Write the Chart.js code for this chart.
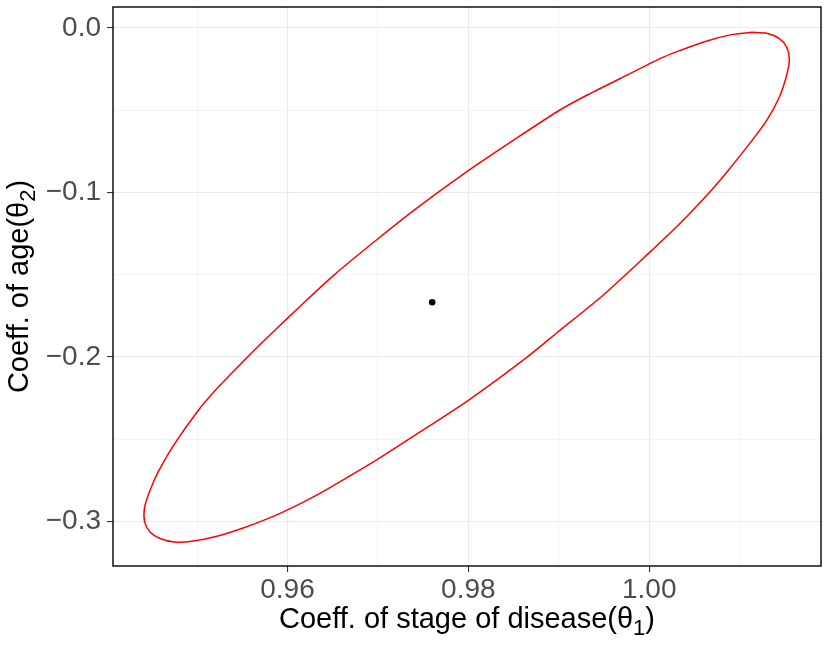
<!DOCTYPE html>
<html>
<head>
<meta charset="utf-8">
<script src="https://cdn.jsdelivr.net/npm/chart.js@4/dist/chart.umd.min.js"></script>
<style>
  html, body { margin: 0; padding: 0; background: #fff; }
  #wrap { width: 830px; height: 649px; }
</style>
</head>
<body>
<div id="wrap"><canvas id="chart"></canvas></div>
<script>
// confidence region boundary (theta1, theta2)
const ellipseX = [
  1.0113, 1.0130, 1.0144, 1.0152, 1.0155, 1.0152, 1.0144, 1.0130, 1.0111, 1.0086,
  1.0067, 1.0034, 0.9999, 0.9949, 0.9899, 0.9865, 0.9800, 0.9747, 0.9699, 0.9647,
  0.9625, 0.9603, 0.9581, 0.9551, 0.9522, 0.9494, 0.9475, 0.9459, 0.9448, 0.9442,
  0.9442, 0.9448, 0.9457, 0.9474, 0.9500, 0.9522, 0.9555, 0.9584, 0.9614, 0.9651,
  0.9699, 0.9743, 0.9798, 0.9850, 0.9899, 0.9931, 0.9968, 1.0012, 1.0030, 1.0063,
  1.0091, 1.0113
];
const ellipseY = [
  -0.0026, -0.0032, -0.0064, -0.0115, -0.0192, -0.0287, -0.0419, -0.0561, -0.0703, -0.0875,
  -0.0997, -0.1189, -0.1372, -0.1625, -0.1849, -0.2001, -0.2264, -0.2455, -0.2625, -0.2795,
  -0.2862, -0.2923, -0.2978, -0.3041, -0.3091, -0.3122, -0.3126, -0.3105, -0.3065, -0.3004,
  -0.2913, -0.2811, -0.2700, -0.2538, -0.2335, -0.2193, -0.2005, -0.1849, -0.1692, -0.1504,
  -0.1286, -0.1095, -0.0875, -0.0682, -0.0506, -0.0409, -0.0307, -0.0186, -0.0145, -0.0080,
  -0.0040, -0.0026
];
// point estimate
const centerX = [0.9760];
const centerY = [-0.1668];

const xTicks = [0.95, 0.96, 0.97, 0.98, 0.99, 1.00, 1.01];
const xLabels = [0.96, 0.98, 1.00];
const yTicks = [0, -0.05, -0.1, -0.15, -0.2, -0.25, -0.3];
const yLabels = [0, -0.1, -0.2, -0.3];

const xTitle = [{ t: 'Coeff. of stage of disease(\u03b8' }, { t: '1', sub: true }, { t: ')' }];
const yTitle = [{ t: 'Coeff. of age(\u03b8' }, { t: '2', sub: true }, { t: ')' }];

const ellipse = ellipseX.map((x, i) => ({ x, y: ellipseY[i] }));
const center = centerX.map((x, i) => ({ x, y: centerY[i] }));

const FONT = 'Liberation Sans, Arial, Helvetica, sans-serif';
const isMajor = (v, list) => list.some(t => Math.abs(t - v) < 1e-9);
const fmt = (v, d) => (v < 0 ? '\u2212' : '') + Math.abs(v).toFixed(d);

// label with a plotmath-like subscript, centred on 0 at baseline 0
function drawRichText(ctx, parts, size) {
  const subSize = Math.round(size * 0.76);
  const fontOf = p => (p.sub ? subSize : size) + 'px ' + FONT;
  let total = 0;
  parts.forEach(p => { ctx.font = fontOf(p); p.w = ctx.measureText(p.t).width; total += p.w; });
  let x = -total / 2;
  parts.forEach(p => {
    ctx.font = fontOf(p);
    ctx.fillText(p.t, x, p.sub ? 7 : 0);
    x += p.w;
  });
}

// panel border + axis titles like theme_bw
const decorations = {
  id: 'decorations',
  afterDraw(chart) {
    const { ctx, chartArea: a } = chart;
    ctx.save();
    ctx.strokeStyle = '#000';
    ctx.lineWidth = 1.4;
    ctx.strokeRect(a.left, a.top, a.right - a.left, a.bottom - a.top);

    ctx.fillStyle = '#000';
    ctx.textBaseline = 'alphabetic';
    ctx.textAlign = 'left';
    ctx.save();
    ctx.translate((a.left + a.right) / 2, 628);
    drawRichText(ctx, xTitle, 29);
    ctx.restore();

    ctx.save();
    ctx.translate(28, (a.top + a.bottom) / 2);
    ctx.rotate(-Math.PI / 2);
    drawRichText(ctx, yTitle, 29);
    ctx.restore();
    ctx.restore();
  }
};

new Chart(document.getElementById('chart'), {
  type: 'scatter',
  data: {
    datasets: [
      {
        data: ellipse,
        showLine: true,
        borderColor: '#FF0000',
        borderWidth: 1.5,
        pointRadius: 0,
        tension: 0.25
      },
      {
        data: center,
        pointRadius: 3.3,
        pointBackgroundColor: '#000',
        pointBorderWidth: 0
      }
    ]
  },
  options: {
    responsive: true,
    maintainAspectRatio: false,
    animation: false,
    layout: { padding: { top: 7, right: 9, left: 0, bottom: 0 } },
    plugins: { legend: { display: false }, tooltip: { enabled: false } },
    scales: {
      x: {
        type: 'linear',
        min: 0.9407,
        max: 1.0190,
        afterBuildTicks: s => { s.ticks = xTicks.map(v => ({ value: v })); },
        afterFit: s => { s.height = 83; s.paddingLeft = 0; s.paddingRight = 0; },
        ticks: {
          autoSkip: false,
          maxRotation: 0,
          padding: 1,
          color: '#4D4D4D',
          font: { family: FONT, size: 28 },
          callback: v => isMajor(v, xLabels) ? fmt(v, 2) : ''
        },
        grid: {
          color: '#EBEBEB',
          lineWidth: c => isMajor(c.tick.value, xLabels) ? 1.1 : 0.55,
          tickLength: 6,
          tickColor: c => isMajor(c.tick.value, xLabels) ? '#333333' : 'rgba(0,0,0,0)',
          tickWidth: 1.1
        },
        border: { display: false }
      },
      y: {
        type: 'linear',
        min: -0.3272,
        max: 0.0128,
        afterBuildTicks: s => { s.ticks = yTicks.map(v => ({ value: v })); },
        afterFit: s => { s.width = 113; s.paddingTop = 0; s.paddingBottom = 0; },
        ticks: {
          autoSkip: false,
          padding: 6,
          color: '#4D4D4D',
          font: { family: FONT, size: 28 },
          callback: v => isMajor(v, yLabels) ? fmt(v, 1) : ''
        },
        grid: {
          color: '#EBEBEB',
          lineWidth: c => isMajor(c.tick.value, yLabels) ? 1.1 : 0.55,
          tickLength: 6,
          tickColor: c => isMajor(c.tick.value, yLabels) ? '#333333' : 'rgba(0,0,0,0)',
          tickWidth: 1.1
        },
        border: { display: false }
      }
    }
  },
  plugins: [decorations]
});
</script>
</body>
</html>
